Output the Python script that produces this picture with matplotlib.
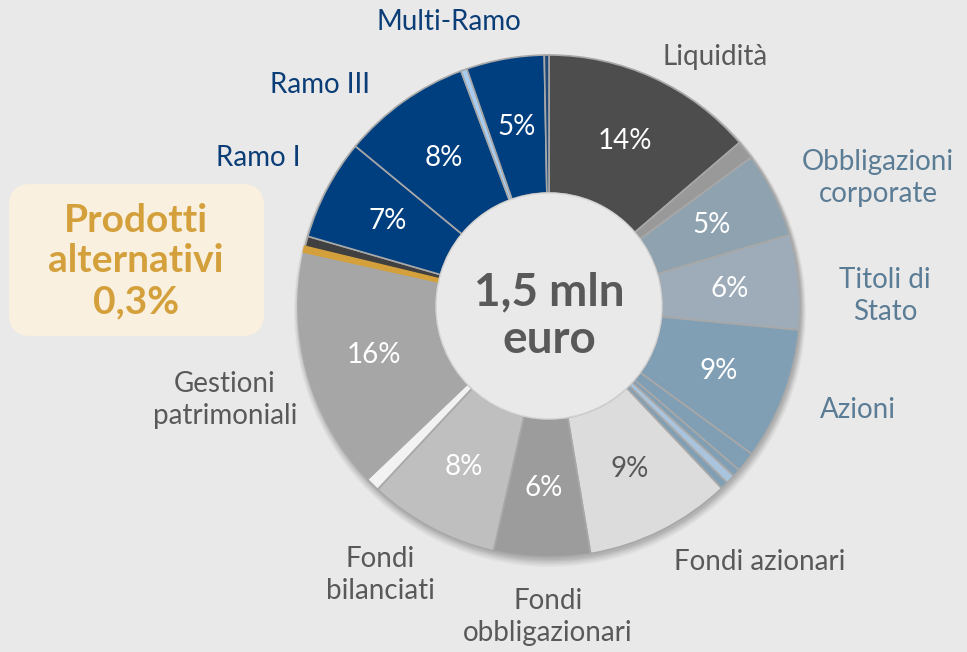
import numpy as np
import matplotlib
matplotlib.use("Agg")
import matplotlib.pyplot as plt
from matplotlib.patches import FancyBboxPatch, Circle

plt.rcParams['font.family'] = ['Lato', 'DejaVu Sans']

# ---- data (clockwise from 12 o'clock) ----
slice_names = ["Liquidità", "Altro liquidità", "Obbligazioni corporate", "Titoli di Stato",
               "Azioni", "Azioni a", "Azioni b", "Azioni c", "Azioni d",
               "Fondi azionari", "Fondi obbligazionari", "Fondi bilanciati", "Fondi altro",
               "Gestioni patrimoniali", "Prodotti alternativi", "Altro", "Ramo I", "Ramo III",
               "Ramo altro", "Multi-Ramo", "Multi-Ramo altro"]
slice_values = [13.7, 1.2, 5.5, 6.1, 8.5, 1.3, 0.5, 0.6, 0.5,
                9.4, 6.2, 8.4, 0.9, 15.6, 0.3, 0.7, 6.5, 8.3, 0.4, 5.0, 0.3]
slice_colors = ["#4d4d4d", "#999999", "#8ea2b0", "#9dacb8",
                "#819fb4", "#819fb4", "#819fb4", "#a9c4dc", "#819fb4",
                "#dcdcdc", "#9c9c9c", "#bfbfbf", "#f2f2f2",
                "#a6a6a6", "#d4a03c", "#404040", "#003f7f", "#003f7f",
                "#a8cdf0", "#003f7f", "#1d4878"]
pct_labels = ["14%", "", "5%", "6%", "9%", "", "", "", "",
              "9%", "6%", "8%", "", "16%", "", "", "7%", "8%", "", "5%", ""]
pct_colors = ["white", "", "white", "white", "white", "", "", "", "",
              "#595959", "white", "white", "", "white", "", "", "white", "white", "", "white", ""]

cat_labels = ["Liquidità", "Obbligazioni\ncorporate", "Titoli di\nStato", "Azioni",
              "Fondi azionari", "Fondi\nobbligazionari", "Fondi\nbilanciati",
              "Gestioni\npatrimoniali", "Ramo I", "Ramo III", "Multi-Ramo"]
center_text = "1,5 mln\neuro"
alt_text = "Prodotti\nalternativi\n0,3%"

W, H = 967, 652
fig = plt.figure(figsize=(W / 100, H / 100), dpi=100)
fig.patch.set_facecolor("#e9e9e9")
ax = fig.add_axes([0, 0, 1, 1])

cx, cy = 549, H - 306
R, width = 251, 138

explode = [0.025 if n == "Prodotti alternativi" else 0 for n in slice_names]

wedges, _ = ax.pie(slice_values, colors=slice_colors, startangle=90, counterclock=False,
                   center=(cx, cy), radius=R, explode=explode,
                   wedgeprops=dict(width=width, edgecolor="#a8a8a8", linewidth=1.2))
for w, n in zip(wedges, slice_names):
    w.set_zorder(2)
    if n == "Prodotti alternativi":
        w.set_edgecolor("#d4a03c")
        w.set_linewidth(2.0)
        w.set_zorder(2.5)

ax.set_xlim(0, W)
ax.set_ylim(0, H)
ax.set_aspect("equal")
ax.axis("off")

# soft shadow
for k, a in zip(range(6), [0.05, 0.05, 0.04, 0.04, 0.03, 0.03]):
    ax.add_patch(Circle((cx + 1, cy - 2 - k * 0.6), R + 1 + k * 0.8, facecolor="#000000",
                        alpha=a, edgecolor="none", zorder=0))

ax.add_patch(Circle((cx, cy), R - width, facecolor="#e9e9e9", edgecolor="#d4d4d4",
                    linewidth=1.0, zorder=3))

rmid = R - width / 2
for w, lab, col in zip(wedges, pct_labels, pct_colors):
    if not lab:
        continue
    th = np.deg2rad((w.theta1 + w.theta2) / 2)
    ax.text(cx + rmid * np.cos(th), cy + rmid * np.sin(th), lab, ha="center", va="center",
            fontsize=20, color=col, zorder=5)

ax.text(cx, H - 316, center_text, ha="center", va="center", fontsize=33, fontweight="bold",
        color="#595959", linespacing=1.15, zorder=5)

gray = "#595959"
steel = "#5b7c95"
navy = "#0b3d77"
label_pos = [(715, 57, gray), (878, 178, steel), (885, 296, steel), (858, 410, steel),
             (760, 562, gray), (548, 617, gray), (380, 575, gray), (225, 400, gray),
             (258, 158, navy), (320, 85, navy), (449, 22, navy)]
for lab, (x, y, c) in zip(cat_labels, label_pos):
    ax.text(x, H - y, lab, ha="center", va="center", fontsize=20, color=c,
            linespacing=1.3, zorder=5)

box = FancyBboxPatch((9, H - 336), 255, 152, boxstyle="round,pad=0,rounding_size=22",
                     facecolor="#f9f0df", edgecolor="none", zorder=4)
ax.add_patch(box)
ax.text(136, H - 261, alt_text, ha="center", va="center", fontsize=28, fontweight="bold",
        color="#d4a03c", linespacing=1.2, zorder=5)

fig.savefig("out.png", dpi=100, facecolor=fig.get_facecolor())
